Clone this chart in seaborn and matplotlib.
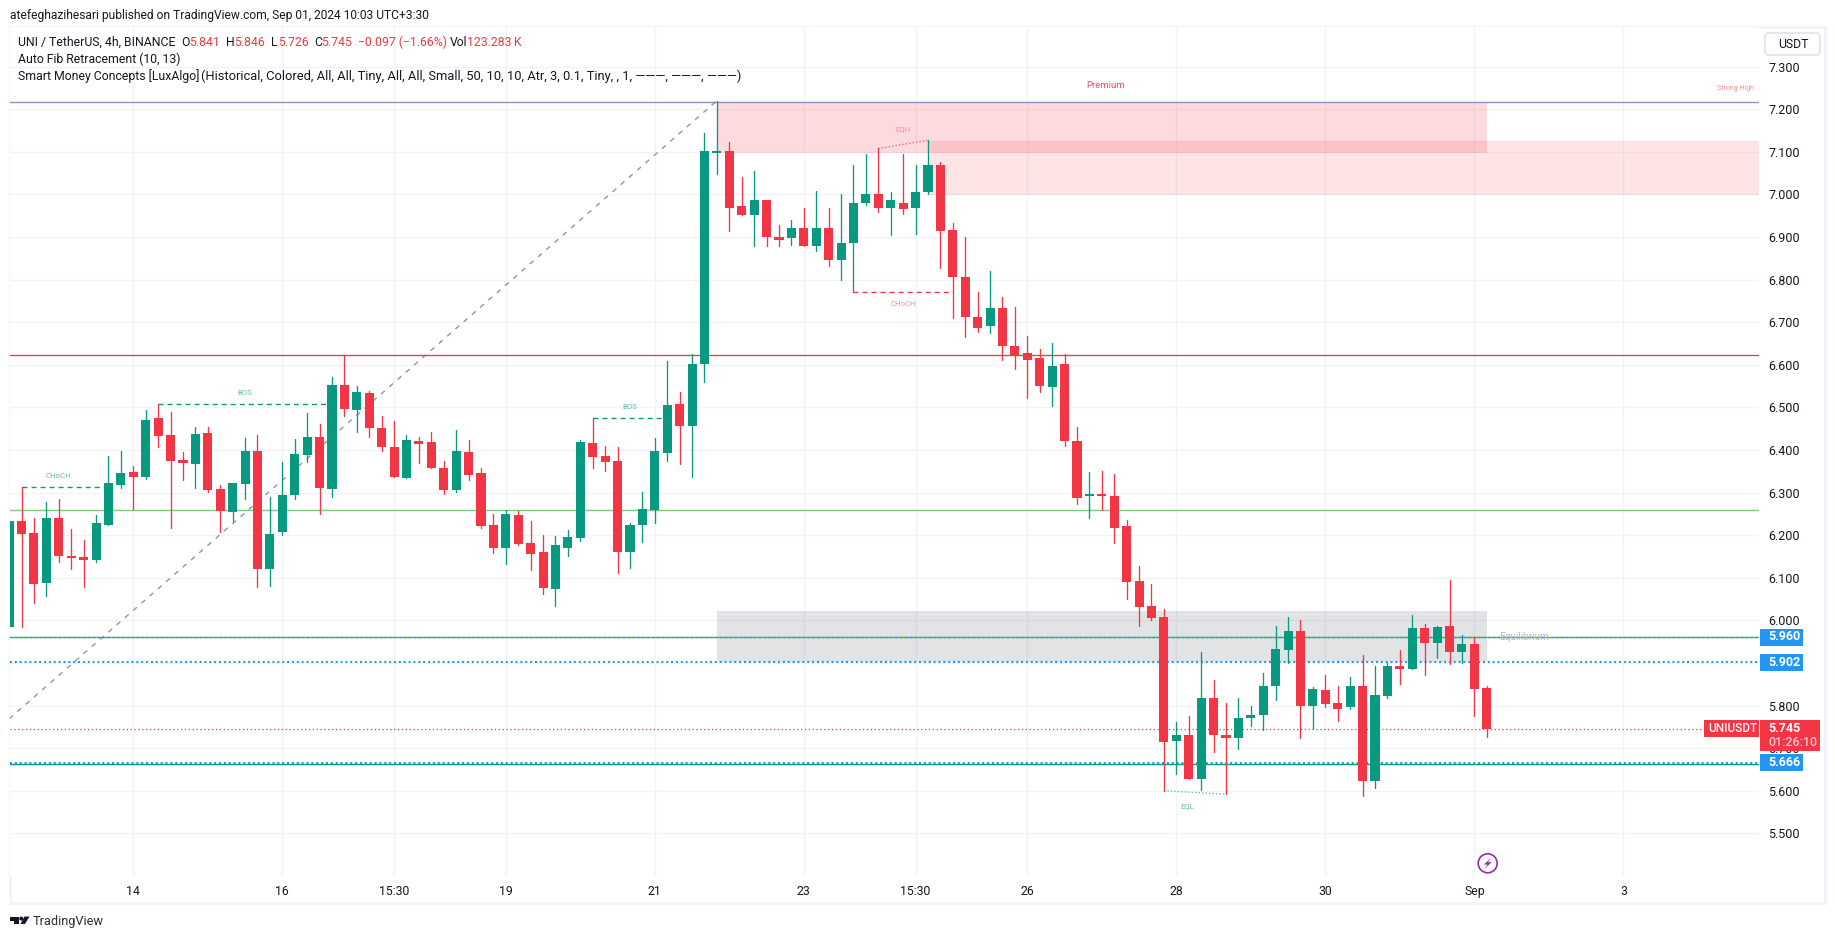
import matplotlib
matplotlib.use('Agg')
import matplotlib.pyplot as plt
from matplotlib.patches import Rectangle, FancyBboxPatch, Circle, Polygon
import numpy as np
import pandas as pd
import seaborn as sns

#%% data
opens = [5.985, 6.233, 6.205, 6.088, 6.240, 6.151, 6.149, 6.142, 6.224, 6.318, 6.348, 6.336, 6.475, 6.435, 6.376, 6.367, 6.440, 6.308, 6.254, 6.320,
         6.397, 6.121, 6.207, 6.294, 6.388, 6.430, 6.308, 6.552, 6.494, 6.534, 6.451, 6.407, 6.334, 6.421, 6.419, 6.358, 6.306, 6.395, 6.346, 6.224,
         6.170, 6.247, 6.182, 6.160, 6.074, 6.170, 6.193, 6.416, 6.386, 6.374, 6.160, 6.224, 6.259, 6.393, 6.508, 6.456, 6.601, 7.097, 7.101, 6.972,
         6.951, 6.986, 6.901, 6.897, 6.920, 6.880, 6.920, 6.847, 6.885, 6.979, 7.002, 6.967, 6.981, 6.967, 7.005, 7.068, 6.917, 6.805, 6.713, 6.690,
         6.734, 6.645, 6.628, 6.617, 6.549, 6.603, 6.420, 6.291, 6.293, 6.293, 6.222, 6.093, 6.034, 6.007, 5.716, 5.732, 5.627, 5.817, 5.730, 5.723,
         5.770, 5.777, 5.845, 5.930, 5.974, 5.798, 5.836, 5.805, 5.796, 5.845, 5.622, 5.822, 5.892, 5.887, 5.981, 5.946, 5.986, 5.925, 5.944, 5.841]
highs = [6.233, 6.313, 6.240, 6.278, 6.285, 6.214, 6.189, 6.247, 6.386, 6.398, 6.362, 6.494, 6.508, 6.489, 6.395, 6.454, 6.454, 6.318, 6.322, 6.428,
         6.435, 6.290, 6.372, 6.426, 6.487, 6.461, 6.571, 6.624, 6.550, 6.538, 6.480, 6.468, 6.435, 6.430, 6.442, 6.374, 6.447, 6.423, 6.358, 6.250,
         6.259, 6.257, 6.233, 6.200, 6.198, 6.212, 6.423, 6.474, 6.409, 6.407, 6.228, 6.301, 6.428, 6.609, 6.536, 6.625, 7.143, 7.220, 7.122, 7.040,
         7.054, 6.986, 6.929, 6.941, 6.967, 7.007, 6.969, 7.002, 7.070, 7.094, 7.108, 7.005, 7.094, 7.068, 7.127, 7.077, 6.934, 6.901, 6.772, 6.821,
         6.760, 6.736, 6.668, 6.638, 6.652, 6.625, 6.455, 6.349, 6.351, 6.344, 6.236, 6.128, 6.085, 6.026, 5.761, 5.775, 5.927, 5.859, 5.805, 5.817,
         5.800, 5.876, 5.986, 6.007, 6.002, 5.843, 5.873, 5.845, 5.866, 5.918, 5.894, 5.901, 5.930, 6.012, 5.991, 5.986, 6.096, 5.965, 5.960, 5.846]
lows = [5.985, 5.985, 6.041, 6.057, 6.137, 6.120, 6.078, 6.137, 6.224, 6.311, 6.261, 6.332, 6.407, 6.217, 6.329, 6.311, 6.301, 6.207, 6.233, 6.285,
        6.078, 6.081, 6.200, 6.285, 6.372, 6.250, 6.290, 6.480, 6.442, 6.430, 6.398, 6.336, 6.334, 6.369, 6.358, 6.297, 6.301, 6.329, 6.217, 6.158,
        6.132, 6.177, 6.118, 6.062, 6.034, 6.151, 6.186, 6.358, 6.351, 6.111, 6.123, 6.184, 6.228, 6.374, 6.367, 6.336, 6.559, 7.049, 6.915, 6.951,
        6.880, 6.880, 6.878, 6.882, 6.880, 6.868, 6.831, 6.800, 6.771, 6.976, 6.958, 6.904, 6.953, 6.906, 7.000, 6.828, 6.711, 6.666, 6.678, 6.675,
        6.612, 6.591, 6.523, 6.537, 6.504, 6.410, 6.274, 6.241, 6.258, 6.182, 6.051, 5.987, 6.001, 5.600, 5.639, 5.627, 5.603, 5.692, 5.592, 5.697,
        5.751, 5.742, 5.812, 5.901, 5.725, 5.744, 5.796, 5.763, 5.791, 5.587, 5.606, 5.819, 5.850, 5.887, 5.871, 5.911, 5.897, 5.901, 5.775, 5.726]
closes = [6.233, 6.203, 6.085, 6.240, 6.151, 6.146, 6.142, 6.228, 6.322, 6.346, 6.336, 6.470, 6.433, 6.374, 6.369, 6.437, 6.306, 6.257, 6.322, 6.397,
          6.121, 6.203, 6.294, 6.390, 6.430, 6.311, 6.552, 6.496, 6.536, 6.451, 6.407, 6.336, 6.423, 6.414, 6.358, 6.306, 6.397, 6.341, 6.221, 6.170,
          6.250, 6.179, 6.156, 6.076, 6.177, 6.196, 6.419, 6.383, 6.372, 6.160, 6.224, 6.261, 6.397, 6.505, 6.456, 6.602, 7.101, 7.101, 6.969, 6.951,
          6.988, 6.901, 6.894, 6.920, 6.880, 6.920, 6.847, 6.885, 6.981, 7.000, 6.969, 6.986, 6.965, 7.005, 7.070, 6.915, 6.805, 6.713, 6.687, 6.734,
          6.643, 6.624, 6.612, 6.551, 6.598, 6.420, 6.288, 6.293, 6.291, 6.218, 6.091, 6.032, 6.005, 5.714, 5.732, 5.627, 5.819, 5.730, 5.723, 5.772,
          5.779, 5.847, 5.932, 5.974, 5.798, 5.838, 5.803, 5.793, 5.847, 5.622, 5.826, 5.892, 5.887, 5.981, 5.948, 5.984, 5.925, 5.944, 5.840, 5.745]

price_ticks = [5.5, 5.6, 5.7, 5.8, 5.9, 6.0, 6.1, 6.2, 6.3, 6.4, 6.5, 6.6, 6.7, 6.8, 6.9, 7.0, 7.1, 7.2, 7.3]
time_ticks = [9, 21, 30, 39, 51, 63, 72, 81, 93, 105, 117, 129]
time_labels = ['14', '16', '15:30', '19', '21', '23', '15:30', '26', '28', '30', 'Sep', '3']

fib_high, fib_red, fib_green, fib_low, fib_bottom = 7.218, 6.624, 6.258, 5.962, 5.663
blue_levels = [5.960, 5.902, 5.666]
last_price = 5.745

GREEN = '#089981'
RED = '#f23645'
PURPLE = '#9c27b0'
INK = '#131722'
GRID = '#f2f3f6'
FRAME = '#f0f3fa'
BLUE = '#2196f3'
W, H = 1835, 939

df = pd.DataFrame({'i': np.arange(-1, len(opens) - 1), 'open': opens, 'high': highs, 'low': lows, 'close': closes})
df['up'] = df['close'] >= df['open']
df['bottom'] = df[['open', 'close']].min(axis=1)
df['height'] = (df['open'] - df['close']).abs().clip(lower=0.006)

#%% figure
sns.set_theme(style='white')
plt.rcParams['font.family'] = ['Roboto', 'DejaVu Sans']

fig = plt.figure(figsize=(W / 100, H / 100), dpi=100)
ax = fig.add_axes([10 / W, 1 - 876 / H, (1759 - 10) / W, (876 - 27) / H])


def fx(px):
    return px / W


def fy(py):
    return 1 - py / H


def inch(points):
    # pixel points (from top left) to inches, for shapes that must stay round
    return [(x / 100, (H - y) / 100) for x, y in points]


# pane frame
fig.add_artist(Rectangle((fx(9.5), fy(903)), fx(1815), 876 / H, transform=fig.transFigure,
                         fill=False, ec=FRAME, lw=2, zorder=-1))

ax.set_xlim(9 + (10 - 133.3) / 12.417, 9 + (1759 - 133.3) / 12.417)
ax.set_ylim(5.400, 7.393)
for s in ax.spines.values():
    s.set_visible(False)
ax.set_yticks(price_ticks)
ax.set_yticklabels(['%.3f' % p for p in price_ticks])
ax.set_xticks(time_ticks)
ax.set_xticklabels(time_labels)
ax.yaxis.tick_right()
ax.tick_params(axis='y', length=0, pad=6.5, labelsize=9, labelcolor=INK)
ax.tick_params(axis='x', length=0, pad=6.3, labelsize=8.8, labelcolor=INK)
ax.grid(True, color=GRID, lw=1)
ax.set_axisbelow(True)

#%% zones
ax.add_patch(Rectangle((56, fib_high), 62, 7.098 - fib_high, fc=RED, alpha=0.18, ec='none', zorder=1))
ax.add_patch(Rectangle((73, 7.0), 76, 0.125, fc=RED, alpha=0.13, ec=RED, lw=0.5, zorder=1))
ax.add_patch(Rectangle((56, 5.902), 62, 0.121, fc='#787b86', alpha=0.21, ec='none', zorder=1))

#%% levels
ax.axhline(fib_high, color='#8c93bd', lw=1, zorder=2)
ax.axhline(fib_red, color=RED, lw=0.95, zorder=2)
ax.axhline(fib_green, color='#81c784', lw=1, zorder=2)
ax.axhline(fib_low, color='#4caf50', lw=1, zorder=2)
ax.axhline(fib_bottom, color=GREEN, lw=1, zorder=2)
for lev, w in zip(blue_levels, [1, 1.5, 1.5]):
    ax.axhline(lev, color=BLUE, lw=w, ls=(0, (1.4 / w, 2.1 / w)), zorder=2.5)
ax.axhline(last_price, color=RED, lw=0.9, ls=(0, (1, 2.1)), zorder=2.5)

# fib diagonal
sns.lineplot(x=[-1, 56], y=[5.769, 7.22], ax=ax, color='#787b86', lw=1, alpha=0.8, linestyle=(0, (3.6, 4.3)), zorder=2)

#%% structure labels
dash = (0, (3.6, 2.9))
sns.lineplot(x=[0, 7], y=[6.313, 6.313], ax=ax, color=GREEN, lw=1, linestyle=dash, zorder=2)
sns.lineplot(x=[11, 25], y=[6.508, 6.508], ax=ax, color=GREEN, lw=1, linestyle=dash, zorder=2)
sns.lineplot(x=[46, 52], y=[6.474, 6.474], ax=ax, color=GREEN, lw=1, linestyle=dash, zorder=2)
sns.lineplot(x=[67, 75], y=[6.771, 6.771], ax=ax, color=RED, lw=1, linestyle=dash, zorder=2)
sns.lineplot(x=[69, 73], y=[7.108, 7.127], ax=ax, color=RED, lw=1, linestyle=(0, (1, 1.5)), alpha=0.7, zorder=2)
sns.lineplot(x=[92, 97], y=[5.600, 5.592], ax=ax, color=GREEN, lw=1, linestyle=(0, (1, 1.5)), alpha=0.6, zorder=2)

tiny = dict(fontsize=5.6, ha='center', va='center', zorder=6)
ax.text(3.0, 6.340, 'CHoCH', color='#5fbfae', **tiny)
ax.text(18, 6.535, 'BOS', color='#5fbfae', **tiny)
ax.text(49, 6.500, 'BOS', color='#5fbfae', **tiny)
ax.text(71, 6.743, 'CHoCH', color='#f98f98', **tiny)
ax.text(71, 7.153, 'EQH', color='#f98f98', **tiny)
ax.text(93.9, 5.564, 'EQL', color='#5fbfae', **tiny)
ax.text(87.3, 7.2566, 'Premium', color=RED, fontsize=6.8, ha='center', va='center', alpha=0.9)
ax.text(138, 7.248, 'Strong High', color='#f98f98', fontsize=5, ha='center', va='center')
ax.text(119, 5.962, 'Equilibrium', color='#b8bac0', fontsize=7.2, ha='left', va='center', zorder=6)

#%% candles
wicks = df.melt(id_vars=['i', 'up'], value_vars=['high', 'low'], value_name='price')
sns.lineplot(data=wicks, x='i', y='price', hue='up', units='i', estimator=None, palette={True: GREEN, False: RED},
             lw=0.95, legend=False, ax=ax, zorder=3)
ax.bar(df['i'], df['height'], bottom=df['bottom'], width=0.73, color=[GREEN if u else RED for u in df['up']],
       lw=0, zorder=4)
ax.set_xlabel('')
ax.set_ylabel('')


#%% boxes on the price axis
def box(x0, y0, x1, y1, color):
    fig.add_artist(Rectangle((fx(x0), fy(y1)), (x1 - x0) / W, (y1 - y0) / H, transform=fig.transFigure,
                             fc=color, ec='none', zorder=5))


for lev, yc in zip(blue_levels, [637, 662, 762.5]):
    box(1760, yc - 8.5, 1803, yc + 8.5, BLUE)
    fig.text(fx(1768), fy(yc), '%.3f' % lev, color='white', fontsize=9, fontweight='bold', va='center', zorder=6)

box(1704, 720, 1759, 737, RED)
box(1760, 720, 1820, 751, RED)
fig.text(fx(1708), fy(728.5), 'UNIUSDT', color='white', fontsize=8.5, fontweight='medium', va='center', zorder=6)
fig.text(fx(1768), fy(728.5), '%.3f' % last_price, color='white', fontsize=9, fontweight='bold', va='center', zorder=6)
fig.text(fx(1768), fy(743), '01:26:10', color='#fbc6cb', fontsize=9, fontweight='medium', va='center', zorder=6)

# currency button
fig.add_artist(FancyBboxPatch((fx(1765), fy(55)), 55 / W, 22 / H, boxstyle='round,pad=0,rounding_size=0.002',
                              transform=fig.transFigure, fc='white', ec='#e0e3eb', lw=1.2, zorder=5,
                              mutation_aspect=W / H))
fig.text(fx(1778), fy(44.5), 'USDT', color=INK, fontsize=8.8, va='center', zorder=6)

# purple event mark under the pane
fig.add_artist(Circle((1487.7 / 100, (H - 863.3) / 100), 0.095, transform=fig.dpi_scale_trans,
                      fc='white', ec=PURPLE, lw=1.2, zorder=5))
fig.add_artist(Polygon(inch([(1491.5, 857.5), (1483.8, 864.6), (1487.6, 864.6), (1484, 869.2), (1491.8, 862.2), (1487.9, 862.2)]),
                       closed=True, transform=fig.dpi_scale_trans, fc=PURPLE, ec='none', zorder=6))

#%% header texts
fig.text(fx(10), fy(15), 'atefeghazihesari published on TradingView.com, Sep 01, 2024 10:03 UTC+3:30',
         color=INK, fontsize=8.65, va='center')
head = [(18, 'UNI / TetherUS, 4h, BINANCE', INK), (181, 'O', INK), (189, '5.841', RED), (226, 'H', INK),
        (234, '5.846', RED), (271, 'L', INK), (278, '5.726', RED), (314, 'C', INK), (321, '5.745', RED),
        (358, '\u22120.097 (\u22121.66%)', RED), (450, 'Vol', INK), (467, '123.283\u2009K', RED)]
for x, t, c in head:
    fig.text(fx(x), fy(42), t, color=c, fontsize=8.8, va='center')
fig.text(fx(18), fy(59), 'Auto Fib Retracement (10, 13)', color=INK, fontsize=8.8, va='center')
fig.text(fx(18), fy(76), 'Smart Money Concepts [LuxAlgo]', color=INK, fontsize=8.8, va='center')
fig.text(fx(201), fy(76), '(Historical, Colored, All, All, Tiny, All, All, Small, '
         '50, 10, 10, Atr, 3, 0.1, Tiny, , 1, \u2014\u2014\u2014, \u2014\u2014\u2014, \u2014\u2014\u2014)',
         color=INK, fontsize=9.25, va='center')

# footer
fig.text(fx(33), fy(922), 'TradingView', color='#2a2e39', fontsize=9.2, va='center')
fig.add_artist(Polygon(inch([(10, 916.5), (19, 916.5), (19, 924), (14.5, 924), (14.5, 920.5), (10, 920.5)]),
                       closed=True, transform=fig.dpi_scale_trans, fc=INK, ec='none'))
fig.add_artist(Circle((21.3 / 100, (H - 918.6) / 100), 0.02, transform=fig.dpi_scale_trans, fc=INK, ec='none'))
fig.add_artist(Polygon(inch([(24.5, 916.5), (29.5, 916.5), (25, 924), (20.5, 924)]),
                       closed=True, transform=fig.dpi_scale_trans, fc=INK, ec='none'))

fig.savefig('out.png', dpi=100, facecolor='white')
